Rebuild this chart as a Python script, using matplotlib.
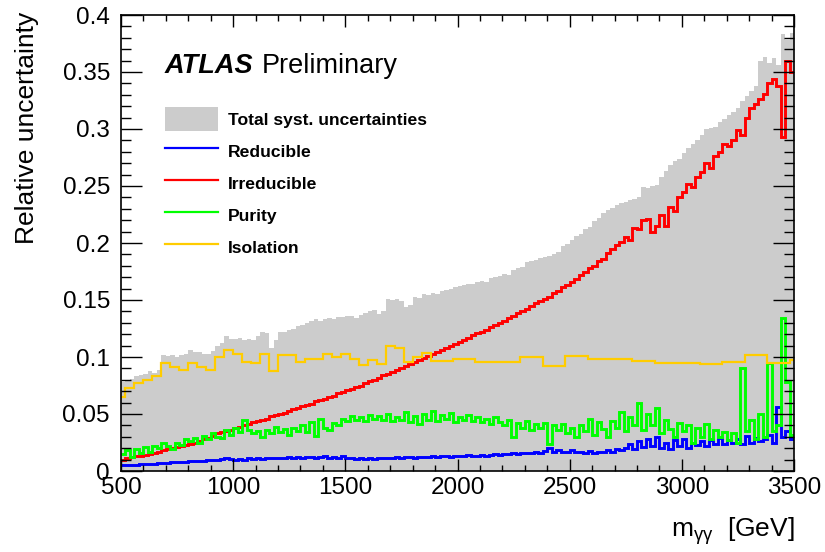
import numpy as np
import matplotlib.pyplot as plt
from matplotlib.patches import Patch
from matplotlib.lines import Line2D
from matplotlib.ticker import MultipleLocator, FuncFormatter

plt.rcParams['font.family'] = ['Liberation Sans', 'DejaVu Sans']
plt.rcParams['mathtext.fontset'] = 'custom'
plt.rcParams['mathtext.rm'] = 'Liberation Sans'
plt.rcParams['mathtext.it'] = 'Liberation Sans:italic'

# 20 GeV bins from 500 to 3500 GeV
edges = np.arange(500, 3501, 20)

total = [0.078, 0.080, 0.081, 0.083, 0.084, 0.085, 0.088, 0.086, 0.089, 0.102,
         0.101, 0.102, 0.100, 0.102, 0.103, 0.106, 0.104, 0.104, 0.103, 0.103,
         0.105, 0.110, 0.112, 0.118, 0.116, 0.116, 0.117, 0.115, 0.116, 0.115,
         0.118, 0.122, 0.121, 0.108, 0.115, 0.122, 0.122, 0.124, 0.125, 0.127,
         0.128, 0.130, 0.132, 0.133, 0.132, 0.133, 0.134, 0.133, 0.135, 0.135,
         0.136, 0.136, 0.134, 0.137, 0.139, 0.140, 0.141, 0.138, 0.140, 0.151,
         0.150, 0.151, 0.149, 0.144, 0.146, 0.153, 0.152, 0.155, 0.154, 0.156,
         0.155, 0.158, 0.159, 0.160, 0.161, 0.162, 0.163, 0.164, 0.164, 0.166,
         0.167, 0.166, 0.169, 0.170, 0.171, 0.173, 0.172, 0.176, 0.178, 0.179,
         0.183, 0.184, 0.185, 0.187, 0.188, 0.189, 0.190, 0.192, 0.197, 0.199,
         0.203, 0.206, 0.208, 0.212, 0.214, 0.219, 0.222, 0.226, 0.229, 0.231,
         0.233, 0.235, 0.236, 0.238, 0.239, 0.240, 0.249, 0.248, 0.250, 0.251,
         0.258, 0.263, 0.268, 0.272, 0.274, 0.279, 0.283, 0.287, 0.290, 0.295,
         0.300, 0.301, 0.302, 0.306, 0.309, 0.312, 0.315, 0.318, 0.325, 0.329,
         0.333, 0.338, 0.360, 0.363, 0.358, 0.362, 0.356, 0.383, 0.378, 0.384]

reducible = [0.005, 0.005, 0.0055, 0.0055, 0.006, 0.006, 0.0065, 0.0065, 0.007, 0.007,
             0.007, 0.0075, 0.0075, 0.008, 0.008, 0.0085, 0.0085, 0.009, 0.009, 0.0095,
             0.0095, 0.010, 0.0105, 0.011, 0.0105, 0.010, 0.0105, 0.010, 0.011, 0.0105,
             0.011, 0.0105, 0.011, 0.0115, 0.011, 0.0115, 0.011, 0.012, 0.0115, 0.012,
             0.0115, 0.012, 0.0125, 0.0115, 0.012, 0.013, 0.0115, 0.012, 0.0115, 0.013,
             0.0115, 0.011, 0.0105, 0.011, 0.0105, 0.011, 0.0105, 0.011, 0.0115, 0.011,
             0.0115, 0.012, 0.011, 0.012, 0.0125, 0.0115, 0.012, 0.0125, 0.012, 0.013,
             0.0125, 0.013, 0.0135, 0.0125, 0.013, 0.0135, 0.013, 0.014, 0.0135, 0.013,
             0.014, 0.0135, 0.014, 0.0145, 0.014, 0.015, 0.0145, 0.0155, 0.015, 0.016,
             0.0155, 0.016, 0.017, 0.016, 0.0175, 0.020, 0.017, 0.018, 0.017, 0.0165,
             0.018, 0.0165, 0.017, 0.016, 0.0175, 0.0155, 0.017, 0.0165, 0.018, 0.017,
             0.019, 0.018, 0.020, 0.024, 0.019, 0.026, 0.021, 0.028, 0.022, 0.030,
             0.020, 0.025, 0.019, 0.027, 0.022, 0.028, 0.020, 0.025, 0.023, 0.026,
             0.022, 0.027, 0.024, 0.029, 0.024, 0.027, 0.025, 0.028, 0.024, 0.031,
             0.025, 0.029, 0.026, 0.028, 0.032, 0.025, 0.056, 0.030, 0.035, 0.028]

irreducible = [0.010, 0.011, 0.012, 0.013, 0.0135, 0.014, 0.015, 0.016, 0.017, 0.018,
               0.019, 0.020, 0.021, 0.022, 0.023, 0.024, 0.025, 0.026, 0.028, 0.029,
               0.031, 0.033, 0.034, 0.035, 0.036, 0.038, 0.039, 0.040, 0.041, 0.043,
               0.044, 0.045, 0.046, 0.048, 0.049, 0.050, 0.051, 0.053, 0.054, 0.055,
               0.057, 0.058, 0.059, 0.061, 0.062, 0.063, 0.065, 0.066, 0.068, 0.069,
               0.071, 0.072, 0.074, 0.075, 0.077, 0.079, 0.080, 0.082, 0.084, 0.085,
               0.087, 0.089, 0.090, 0.092, 0.094, 0.096, 0.097, 0.099, 0.101, 0.103,
               0.104, 0.106, 0.108, 0.110, 0.111, 0.113, 0.115, 0.117, 0.119, 0.121,
               0.122, 0.124, 0.126, 0.128, 0.130, 0.132, 0.134, 0.136, 0.139, 0.140,
               0.142, 0.145, 0.147, 0.149, 0.151, 0.153, 0.156, 0.158, 0.161, 0.163,
               0.166, 0.168, 0.172, 0.175, 0.178, 0.180, 0.184, 0.186, 0.191, 0.195,
               0.198, 0.201, 0.205, 0.203, 0.213, 0.212, 0.220, 0.221, 0.210, 0.215,
               0.225, 0.215, 0.232, 0.228, 0.240, 0.245, 0.252, 0.249, 0.258, 0.262,
               0.270, 0.266, 0.276, 0.280, 0.287, 0.285, 0.290, 0.299, 0.295, 0.310,
               0.318, 0.322, 0.326, 0.331, 0.340, 0.344, 0.338, 0.293, 0.360, 0.350]

purity = [0.015, 0.018, 0.012, 0.019, 0.016, 0.021, 0.017, 0.022, 0.020, 0.025,
          0.022, 0.019, 0.025, 0.023, 0.028, 0.026, 0.029, 0.025, 0.031, 0.028,
          0.033, 0.030, 0.029, 0.036, 0.032, 0.038, 0.034, 0.045, 0.036, 0.033,
          0.035, 0.030, 0.036, 0.033, 0.039, 0.034, 0.037, 0.032, 0.038, 0.035,
          0.040, 0.034, 0.043, 0.031, 0.046, 0.038, 0.036, 0.042, 0.040, 0.046,
          0.044, 0.048, 0.045, 0.047, 0.044, 0.049, 0.046, 0.048, 0.045, 0.050,
          0.044, 0.047, 0.045, 0.052, 0.043, 0.048, 0.041, 0.050, 0.045, 0.053,
          0.044, 0.049, 0.046, 0.051, 0.043, 0.047, 0.045, 0.049, 0.044, 0.047,
          0.043, 0.046, 0.041, 0.047, 0.043, 0.040, 0.045, 0.030, 0.042, 0.038,
          0.044, 0.036, 0.041, 0.038, 0.042, 0.024, 0.040, 0.036, 0.041, 0.033,
          0.038, 0.030, 0.040, 0.035, 0.046, 0.032, 0.043, 0.037, 0.030, 0.044,
          0.038, 0.052, 0.035, 0.047, 0.040, 0.060, 0.036, 0.050, 0.040, 0.055,
          0.033, 0.045, 0.037, 0.030, 0.042, 0.035, 0.040, 0.025, 0.038, 0.030,
          0.041, 0.028, 0.036, 0.030, 0.034, 0.027, 0.033, 0.025, 0.090, 0.035,
          0.045, 0.028, 0.050, 0.030, 0.095, 0.035, 0.040, 0.134, 0.078, 0.032]

iso_edges = [500, 520, 560, 600, 640, 680, 720, 760, 800, 840,
             880, 920, 960, 1000, 1040, 1080, 1120, 1160, 1200, 1280,
             1320, 1400, 1440, 1480, 1520, 1560, 1600, 1640, 1680, 1720,
             1760, 1800, 1840, 1880, 1980, 2080, 2280, 2380, 2480, 2580,
             2780, 2880, 3080, 3180, 3280, 3380, 3480, 3500]
isolation = [0.065, 0.073, 0.077, 0.080, 0.083, 0.095, 0.0915, 0.0885, 0.0948, 0.0912,
             0.089, 0.100, 0.106, 0.103, 0.096, 0.095, 0.103, 0.088, 0.1015, 0.096,
             0.098, 0.1026, 0.100, 0.1024, 0.0985, 0.093, 0.097, 0.094, 0.1096, 0.1075,
             0.096, 0.1003, 0.1038, 0.0967, 0.098, 0.0955, 0.1003, 0.0921, 0.101, 0.098,
             0.0965, 0.095, 0.094, 0.096, 0.1015, 0.0944, 0.097]

fig = plt.figure(figsize=(8.25, 5.52), dpi=100)
ax = fig.add_axes([121/825, 1-471/552, 673/825, 456/552])

ax.stairs(total, edges, fill=True, color='#cccccc', lw=0)
ax.stairs(reducible, edges, baseline=None, color='#0000ff', lw=2.1)
ax.stairs(irreducible, edges, baseline=None, color='#ff0000', lw=2.1)
ax.stairs(purity, edges, baseline=None, color='#00ff00', lw=2.1)
ax.stairs(isolation, iso_edges, baseline=None, color='#ffcc00', lw=1.6)

ax.set_xlim(500, 3500)
ax.set_ylim(0, 0.4)
ax.xaxis.set_major_locator(MultipleLocator(500))
ax.xaxis.set_minor_locator(MultipleLocator(100))
ax.yaxis.set_major_locator(MultipleLocator(0.05))
ax.yaxis.set_minor_locator(MultipleLocator(0.01))
ax.yaxis.set_major_formatter(FuncFormatter(lambda v, p: '%g' % round(v, 3)))
ax.tick_params(axis='both', which='both', direction='in', top=True, right=True,
               labelsize=17.5, width=1.0)
ax.tick_params(axis='x', which='major', length=8.6, pad=4)
ax.tick_params(axis='x', which='minor', length=4.3)
ax.tick_params(axis='y', which='major', length=15, pad=8)
ax.tick_params(axis='y', which='minor', length=7.5)
for s in ax.spines.values():
    s.set_linewidth(1.2)

fig.text(27/825, 1-12/552, 'Relative uncertainty', rotation=90, ha='center', va='top', fontsize=19)
fig.text(795/825, 1-531/552, r'm$_{\mathrm{\gamma\gamma}}$  [GeV]', ha='right', va='center', fontsize=19)

fig.text(165/825, 1-73/552, 'ATLAS', fontsize=19.5, fontweight='bold', fontstyle='italic')
fig.text(262/825, 1-73/552, 'Preliminary', fontsize=19.5)

handles = [Patch(facecolor='#cccccc', edgecolor='none'),
           Line2D([], [], color='#0000ff', lw=1.6),
           Line2D([], [], color='#ff0000', lw=1.6),
           Line2D([], [], color='#00ff00', lw=1.6),
           Line2D([], [], color='#ffcc00', lw=1.6)]
labels = ['Total syst. uncertainties', 'Reducible', 'Irreducible', 'Purity', 'Isolation']
ax.legend(handles, labels, loc='upper left', bbox_to_anchor=(165/825, 1-107/552),
          bbox_transform=fig.transFigure, frameon=False,
          prop=dict(weight='bold', size=12.6), handlelength=3.05, handleheight=1.73,
          handletextpad=0.57, labelspacing=0.46, borderpad=0, borderaxespad=0)

plt.savefig('out.png', dpi=100)
